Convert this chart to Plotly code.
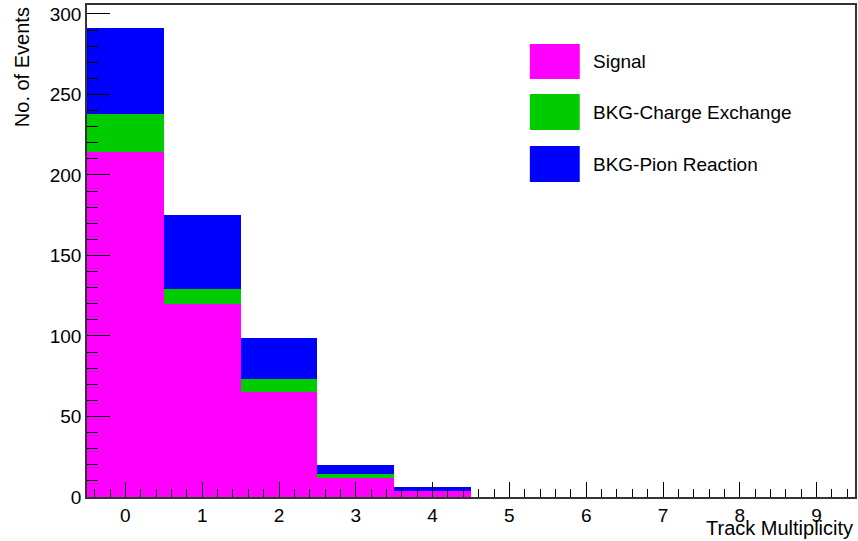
import plotly.graph_objects as go

# ---- data ----
bins = [0, 1, 2, 3, 4, 5, 6, 7, 8, 9]
signal = [214, 120, 65, 12, 4, 0, 0, 0, 0, 0]
bkg_cex = [24, 9, 8, 2, 0, 0, 0, 0, 0, 0]
bkg_pion = [53, 46, 26, 6, 2, 0, 0, 0, 0, 0]
names = ["Signal", "BKG-Charge Exchange", "BKG-Pion Reaction"]
colors = ["#FF00FF", "#00CC00", "#0000FF"]
series = [signal, bkg_cex, bkg_pion]
x_title = "Track Multiplicity"
y_title = "No. of Events"

FONT = "Liberation Sans, Arial, Helvetica, sans-serif"

fig = go.Figure()
for name, vals, col in zip(names, series, colors):
    fig.add_trace(go.Bar(
        x=bins, y=vals, name=name, width=1.0,
        marker=dict(color=col, line=dict(width=0)),
        showlegend=False,
    ))

ymax = 1.05 * max(a + b + c for a, b, c in zip(*series))

fig.update_layout(
    width=858, height=541,
    margin=dict(l=87, r=1, t=5, b=44),
    paper_bgcolor="white", plot_bgcolor="white",
    barmode="stack", bargap=0,
    font=dict(family=FONT, size=19, color="black"),
    xaxis=dict(
        range=[-0.5, 9.5], tickmode="linear", tick0=0, dtick=1,
        ticks="inside", ticklen=15, tickwidth=1, tickcolor="black",
        minor=dict(dtick=0.2, tick0=0, ticks="inside", ticklen=8, tickwidth=1, tickcolor="black"),
        showline=True, linecolor="#333", linewidth=1.5, mirror=True,
        showgrid=False, zeroline=False,
        tickfont=dict(size=19, color="black"),
    ),
    yaxis=dict(
        range=[0, ymax], tickmode="linear", tick0=0, dtick=50,
        ticks="inside", ticklen=23, tickwidth=1, tickcolor="black",
        minor=dict(dtick=10, tick0=0, ticks="inside", ticklen=11, tickwidth=1, tickcolor="black"),
        showline=True, linecolor="#333", linewidth=1.5, mirror=True,
        showgrid=False, zeroline=False,
        tickfont=dict(size=19, color="black"),
    ),
)

# axis titles (ROOT style: aligned to the axis end)
fig.add_annotation(text=y_title, xref="paper", yref="paper", x=-0.0844, y=1.0,
                   xanchor="center", yanchor="top", textangle=-90, showarrow=False,
                   font=dict(size=20, color="black", family=FONT))
fig.add_annotation(text=x_title, xref="paper", yref="paper", x=1.0, y=-0.0885,
                   xanchor="right", yanchor="bottom", showarrow=False,
                   font=dict(size=20, color="black", family=FONT))

# legend (boxes + labels)
box_x0, box_x1, text_x = 0.5766, 0.6416, 0.6558
box_rows = [(0.8496, 0.9207), (0.7459, 0.8191), (0.6402, 0.7134)]
for (y0, y1), name, col in zip(box_rows, names, colors):
    fig.add_shape(type="rect", xref="paper", yref="paper",
                  x0=box_x0, x1=box_x1, y0=y0, y1=y1,
                  fillcolor=col, line=dict(width=0))
    fig.add_annotation(text=name, xref="paper", yref="paper", x=text_x, y=(y0 + y1) / 2,
                       xanchor="left", yanchor="middle", showarrow=False,
                       font=dict(size=19, color="black", family=FONT))

fig.write_html("out.html")
